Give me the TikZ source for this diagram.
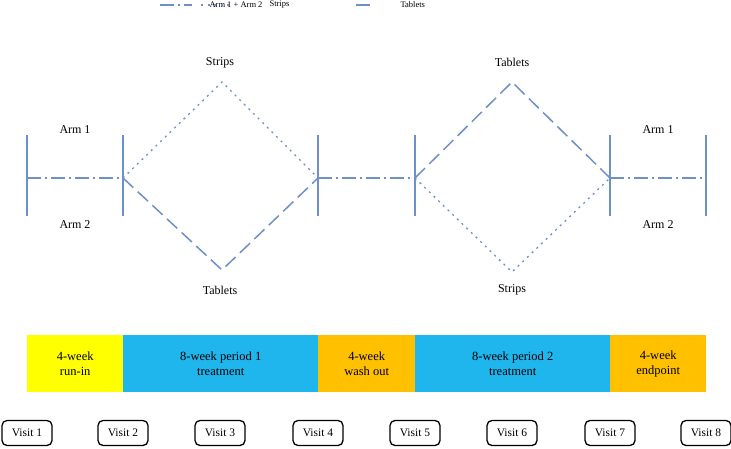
\documentclass[tikz,border=0pt]{standalone}
\usepackage{fontspec}
\setmainfont{Liberation Serif}
\begin{document}
\begin{tikzpicture}[x=1pt,y=-1pt,
  ln/.style={draw=lc,line width=1.5pt},
  armline/.style={ln,dash pattern=on 14pt off 4pt on 2pt off 4pt},
  stripline/.style={ln,line width=1.3pt,dash pattern=on 2pt off 4.5pt},
  tabline/.style={ln,dash pattern=on 14pt off 6pt},
  lbl/.style={font=\fontsize{12}{14}\selectfont},
  seg/.style={minimum height=57pt,inner sep=0pt,align=center,font=\fontsize{12.5}{15}\selectfont,anchor=west},
  visit/.style={draw,line width=1.3pt,rounded corners=5pt,minimum width=50pt,minimum height=25pt,inner sep=1pt,font=\fontsize{11.5}{13}\selectfont},
  leg/.style={font=\fontsize{8.5}{10}\selectfont,anchor=west}]
\definecolor{lc}{HTML}{6F8FC8}
\definecolor{cy}{HTML}{1FB6EE}
\definecolor{yl}{HTML}{FFFF00}
\definecolor{og}{HTML}{FFC000}
\useasboundingbox (0,0) rectangle (731,448);
% legend
\coordinate (la1) at (160,5); \coordinate (la2) at (192,5);
\draw[armline] (la1) -- (la2);
\node[leg] (lat) at (206,5) {Arm 1 + Arm 2};
\coordinate (ls1) at (201,5); \coordinate (ls2) at (232,5);
\draw[stripline] (ls1) -- (ls2);
\node[leg] (lst) at (266,5) {Strips};
\coordinate (lt1) at (356,5); \coordinate (lt2) at (376,5);
\draw[tabline] (lt1) -- (lt2);
\node[leg] (ltt) at (397,5) {Tablets};
% bars
\foreach \x/\n in {27/b1,123/b2,318/b3,415/b4,610/b5,706/b6}{
  \coordinate (\n) at (\x,178);
  \draw[ln] (\x,135) -- (\x,216);
}
\coordinate (t1) at (222,82); \coordinate (u1) at (222,270);
\coordinate (t2) at (512,82); \coordinate (u2) at (512,272);
\draw[armline] (b1) -- (b2);
\draw[armline] (b3) -- (b4);
\draw[armline] (b5) -- (b6);
\draw[stripline] (b2) -- (t1) -- (b3);
\draw[tabline] (b2) -- (u1) -- (b3);
\draw[tabline] (b4) -- (t2) -- (b5);
\draw[stripline] (b4) -- (u2) -- (b5);
% labels
\node[lbl] (a1) at (75,130) {Arm 1};
\node[lbl] (a2) at (75,225) {Arm 2};
\node[lbl] (s1) at (220,63) {Strips};
\node[lbl] (tb1) at (220,290) {Tablets};
\node[lbl] (tb2) at (512,62) {Tablets};
\node[lbl] (s2) at (512,290) {Strips};
\node[lbl] (a3) at (658,130) {Arm 1};
\node[lbl] (a4) at (658,225) {Arm 2};
% timeline
\node[seg,fill=yl,minimum width=96pt] (p1) at (27,363.5) {4-week\\run-in};
\node[seg,fill=cy,minimum width=195pt] (p2) at (123,363.5) {8-week period 1\\treatment};
\node[seg,fill=og,minimum width=97pt] (p3) at (318,363.5) {4-week\\wash out};
\node[seg,fill=cy,minimum width=195pt] (p4) at (415,363.5) {8-week period 2\\treatment};
\node[seg,fill=og,minimum width=96pt] (p5) at (610,363.5) {4-week\\endpoint};
% visits
\foreach \x/\i in {27/1,123/2,220/3,318/4,415/5,512/6,610/7,706/8}{
  \node[visit] (v\i) at (\x,433) {Visit \i};
}
\end{tikzpicture}
\end{document}
